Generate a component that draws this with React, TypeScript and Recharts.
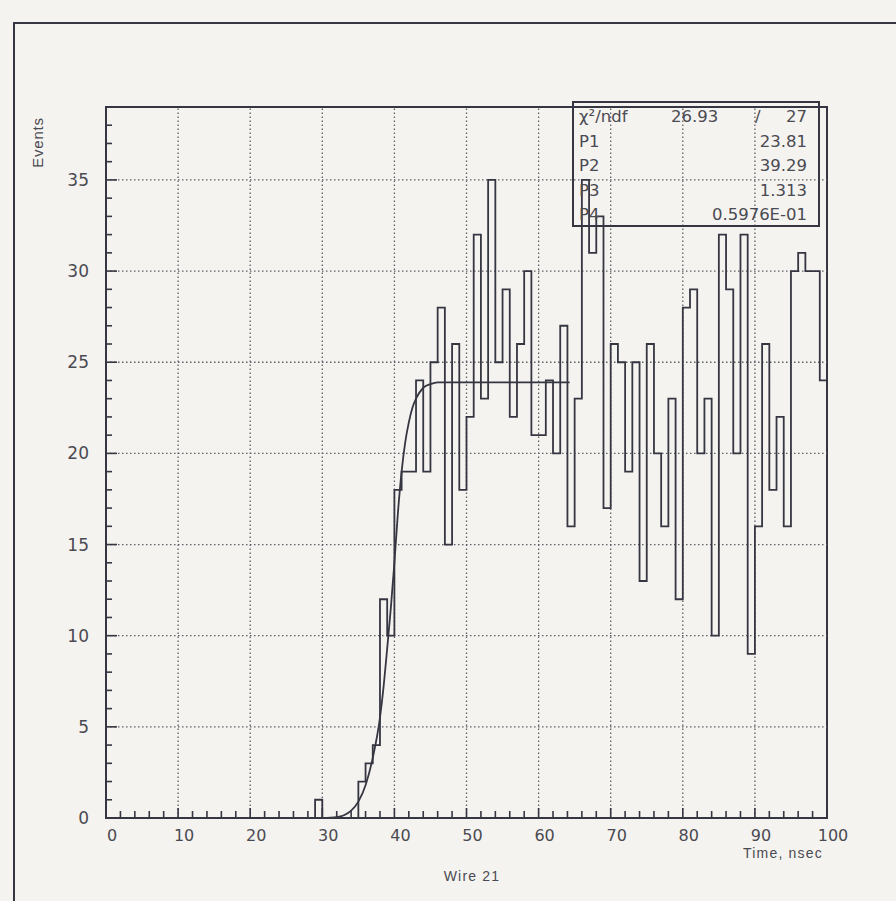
import { ComposedChart, Line, XAxis, YAxis, ReferenceLine, ReferenceArea } from "recharts";

// histogram: one count per 1 nsec bin, starting at bin 29
const firstBin = 29;
const counts = [
  1, 0, 0, 0, 0, 0, 2, 3, 4, 12,
  10, 18, 19, 19, 24, 19, 25, 28, 15, 26,
  18, 22, 32, 23, 35, 25, 29, 22, 26, 30,
  21, 21, 24, 20, 27, 16, 23, 35, 31, 33,
  17, 26, 25, 19, 25, 13, 26, 20, 16, 23,
  12, 28, 29, 20, 23, 10, 32, 29, 20, 32,
  9, 16, 26, 18, 22, 16, 30, 31, 30, 30,
  24,
];

// fit curve
const fitX = [30, 32, 33, 34, 35, 36, 37, 38, 38.5, 39, 39.5, 40, 40.5, 41, 41.5, 42, 42.5, 43, 44, 45, 46, 50, 64.3];
const fitY = [0, 0.05, 0.15, 0.4, 0.9, 1.8, 3.3, 5.5, 7.2, 9.3, 11.5, 14, 16.8, 19, 20.6, 21.7, 22.5, 23, 23.6, 23.8, 23.9, 23.9, 23.9];

const xMajor = [10, 20, 30, 40, 50, 60, 70, 80, 90];
const yMajor = [5, 10, 15, 20, 25, 30, 35];
const yMax = 39;

const statRows = [
  { name: "χ²/ndf", mid: "26.93", value: "27" },
  { name: "P1", value: "23.81" },
  { name: "P2", value: "39.29" },
  { name: "P3", value: "1.313" },
  { name: "P4", value: "0.5976E-01" },
];

const ink = "#363642";
const textInk = "#4a4a52";
const font = "'DejaVu Sans', 'Liberation Sans', sans-serif";
const titleFont = "'Liberation Sans', Arial, sans-serif";

const histData = [] as { x: number; n: number }[];
for (let i = 0; i < 100; i++) {
  const k = i - firstBin;
  histData.push({ x: i, n: k >= 0 && k < counts.length ? counts[k] : 0 });
}
histData.push({ x: 100, n: histData[99].n });

const fitData = fitX.map((x, i) => ({ x, f: fitY[i] }));

const xTicks = Array.from({ length: 51 }, (_, i) => i * 2);
const yTicks = Array.from({ length: yMax + 1 }, (_, i) => i);

const YTick = ({ x, y, payload }: any) => {
  const v = payload.value;
  const major = v % 5 === 0;
  return (
    <g>
      <line x1={x} x2={x + (major ? 11 : 6)} y1={y} y2={y} stroke={ink} strokeWidth={1.6} />
      {major && (
        <text x={x - 17} y={y + 6} textAnchor="end" fontSize={17} fill={textInk} fontFamily={font}>
          {v}
        </text>
      )}
    </g>
  );
};

const XTick = ({ x, y, payload }: any) => {
  const v = payload.value;
  const major = v % 10 === 0;
  return (
    <g>
      <line x1={x} x2={x} y1={y} y2={y - (major ? 10 : 7)} stroke={ink} strokeWidth={1.6} />
      {major && (
        <text x={x + 6} y={y + 23} textAnchor="middle" fontSize={16} fill={textInk} fontFamily={font}>
          {v}
        </text>
      )}
    </g>
  );
};

export default function App() {
  return (
    <div
      style={{
        position: "absolute",
        left: 0,
        top: 0,
        width: 896,
        height: 901,
        background: "#f5f3ef",
        overflow: "hidden",
        fontFamily: font,
      }}
    >
      {/* page border of the scanned figure */}
      <div style={{ position: "absolute", left: 13, top: 22, width: 900, height: 900, borderLeft: `2px solid ${ink}`, borderTop: `2px solid ${ink}` }} />

      <ComposedChart width={896} height={901} margin={{ top: 107, right: 69, left: 46, bottom: 53 }}>
        <XAxis
          dataKey="x"
          type="number"
          domain={[0, 100]}
          ticks={xTicks}
          interval={0}
          tick={<XTick />}
          tickLine={false}
          axisLine={false}
          tickSize={0}
          tickMargin={0}
          height={30}
          allowDataOverflow
        />
        <YAxis
          type="number"
          domain={[0, yMax]}
          ticks={yTicks}
          interval={0}
          tick={<YTick />}
          tickLine={false}
          axisLine={false}
          tickSize={0}
          tickMargin={0}
          width={60}
          allowDataOverflow
        />
        {xMajor.map((v) => (
          <ReferenceLine key={"gx" + v} x={v} stroke="#5e5e68" strokeDasharray="1.5 2.5" strokeWidth={1.3} />
        ))}
        {yMajor.map((v) => (
          <ReferenceLine key={"gy" + v} y={v} stroke="#5e5e68" strokeDasharray="1.5 2.5" strokeWidth={1.3} />
        ))}
        <ReferenceArea x1={0} x2={100} y1={0} y2={yMax} fill="none" stroke={ink} strokeWidth={2} ifOverflow="visible" />
        <Line
          data={histData}
          dataKey="n"
          type="stepAfter"
          stroke={ink}
          strokeWidth={1.8}
          dot={false}
          activeDot={false}
          isAnimationActive={false}
        />
        <Line
          data={fitData}
          dataKey="f"
          type="monotone"
          stroke={ink}
          strokeWidth={1.8}
          dot={false}
          activeDot={false}
          isAnimationActive={false}
        />
      </ComposedChart>

      {/* stat box */}
      <div
        style={{
          position: "absolute",
          left: 572,
          top: 101,
          width: 248,
          height: 126,
          border: `2px solid ${ink}`,
          boxSizing: "border-box",
          color: textInk,
          fontSize: 16.5,
        }}
      >
        {statRows.map((r, i) => (
          <div key={r.name} style={{ position: "absolute", left: 5, right: 11, top: 3 + i * 24.5, height: 22, lineHeight: "22px" }}>
            <span style={{ position: "absolute", left: 0 }}>{r.name}</span>
            {r.mid && <span style={{ position: "absolute", left: 92 }}>{r.mid}</span>}
            {r.mid && <span style={{ position: "absolute", left: 176 }}>/</span>}
            <span style={{ position: "absolute", right: 0 }}>{r.value}</span>
          </div>
        ))}
      </div>

      {/* axis titles */}
      <div style={{ position: "absolute", left: 27, top: 112, width: 20, height: 60, display: "flex", alignItems: "center", justifyContent: "center" }}>
        <span style={{ transform: "rotate(-90deg)", fontSize: 15, color: textInk, whiteSpace: "nowrap", fontFamily: titleFont, letterSpacing: 0.8 }}>Events</span>
      </div>
      <div style={{ position: "absolute", right: 73, top: 845, fontSize: 14, color: textInk, fontFamily: titleFont, letterSpacing: 1.2 }}>
        Time, nsec
      </div>
      <div style={{ position: "absolute", left: 430, top: 868, width: 84, textAlign: "center", fontSize: 14, color: textInk, fontFamily: titleFont, letterSpacing: 1.2 }}>
        Wire 21
      </div>
    </div>
  );
}
